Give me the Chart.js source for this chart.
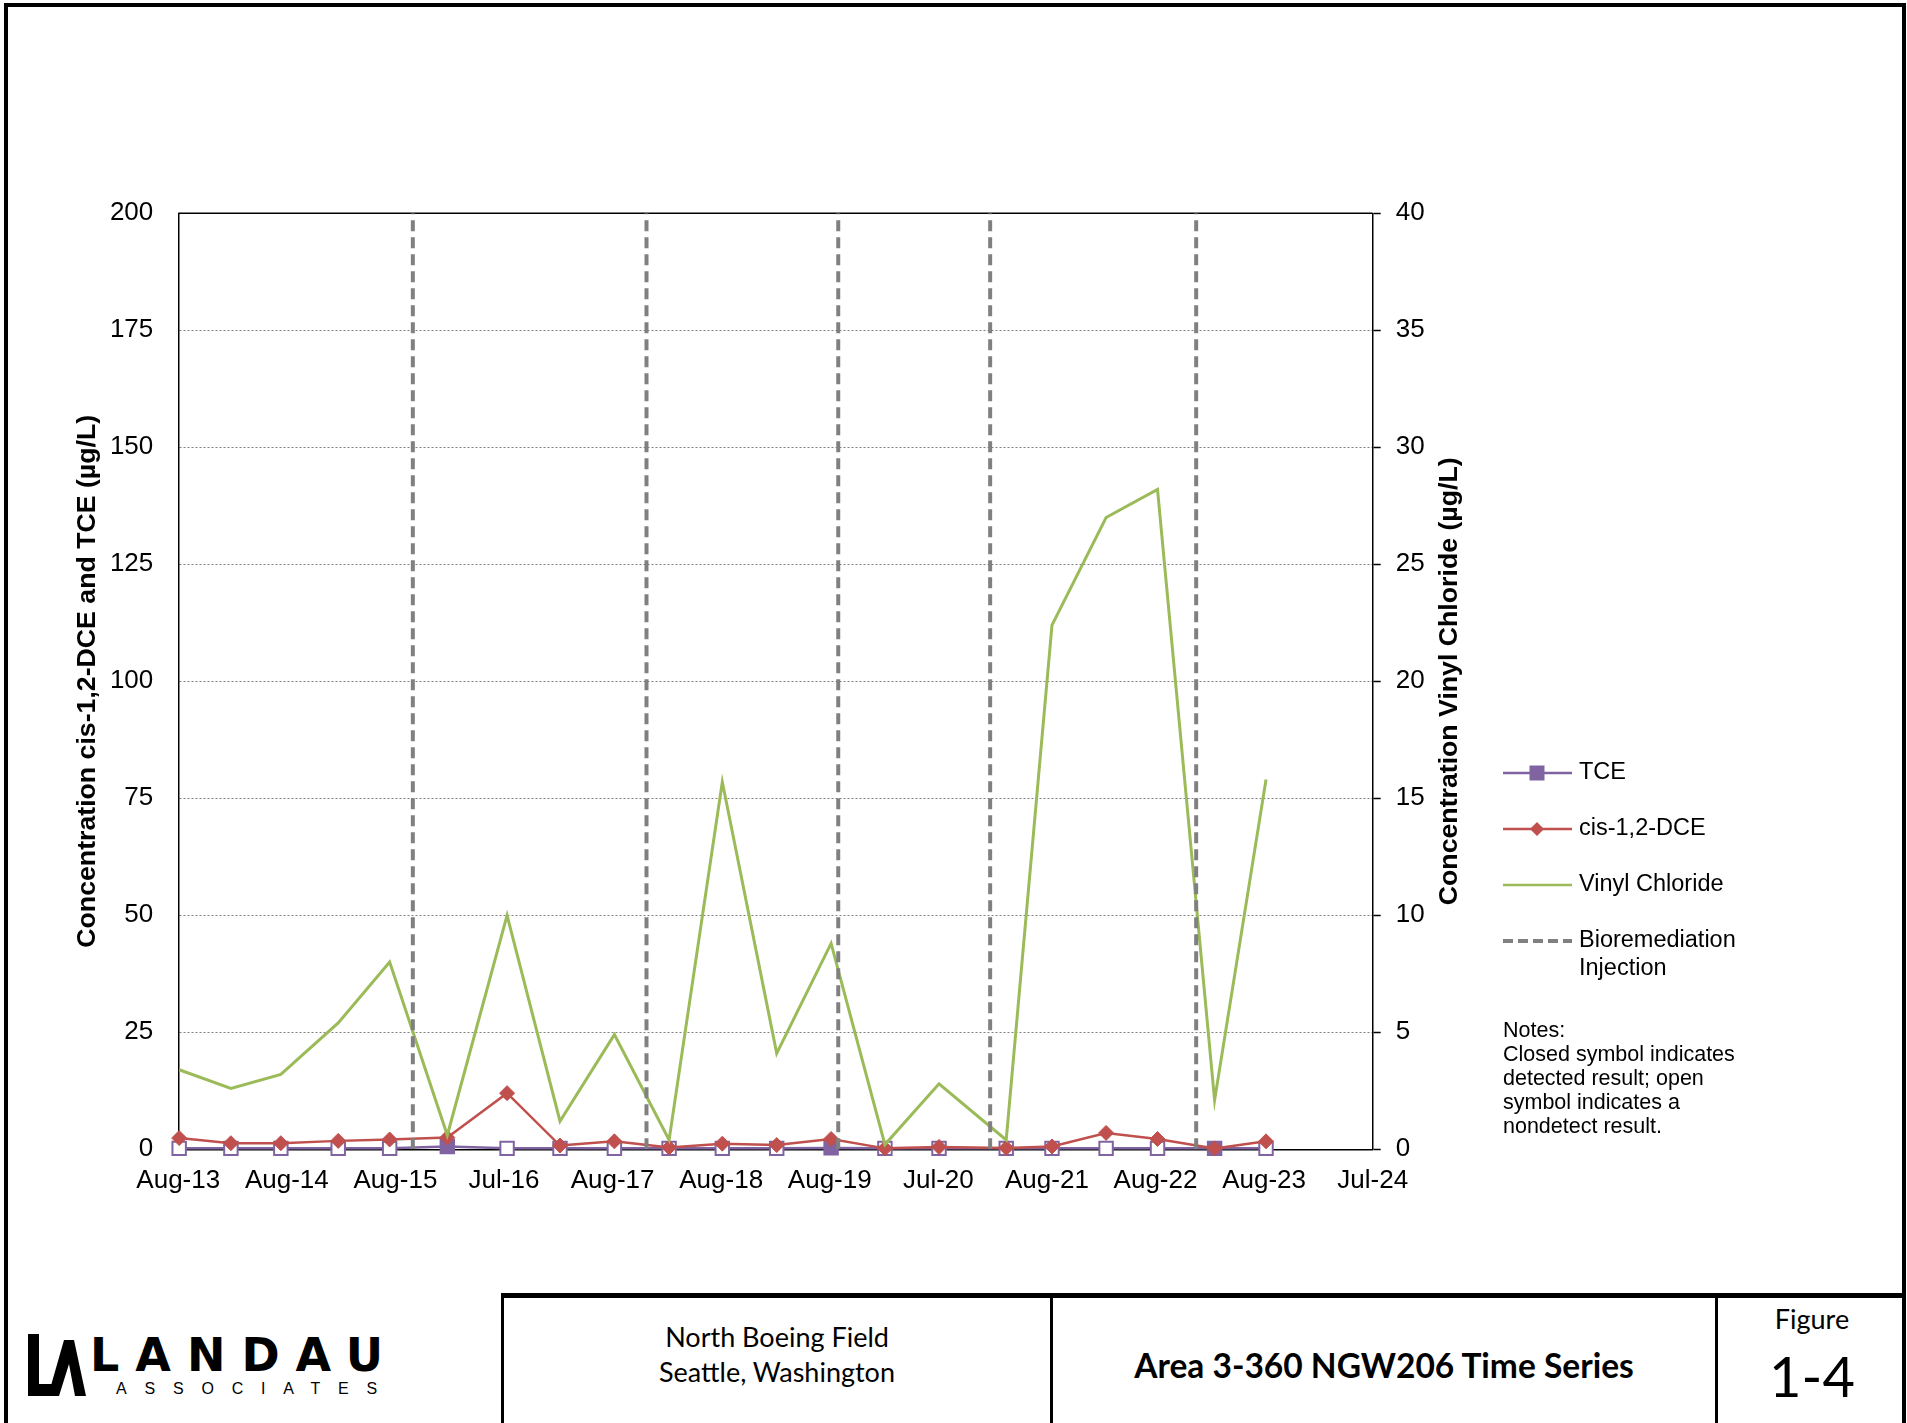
<!DOCTYPE html>
<html>
<head>
<meta charset="utf-8">
<script src="https://cdn.jsdelivr.net/npm/chart.js@4.4.1/dist/chart.umd.min.js"></script>
<style>
  html, body { margin: 0; padding: 0; background: #fff; }
  #page { position: relative; width: 1907px; height: 1423px; overflow: hidden; font-family: "Liberation Sans", Arial, sans-serif; }
  #frame { position: absolute; left: 4px; top: 3px; width: 1902px; height: 1500px; border: 4px solid #000; box-sizing: border-box; }
  #chart { position: absolute; left: 0; top: 0; }
  #notes { position: absolute; left: 1503px; top: 1018px; font-size: 21.5px; line-height: 24px; color: #000; }
  #block { position: absolute; left: 501px; top: 1293px; width: 1405px; height: 140px; border-top: 5px solid #000; box-sizing: border-box; font-family: Lato, "Open Sans", sans-serif; }
  .cell { position: absolute; top: 0; bottom: 0; border-left: 3px solid #000; box-sizing: border-box; text-align: center; color: #000; }
  #c1 { left: 0; width: 549px; }
  #c2 { left: 549px; width: 665px; }
  #c3 { left: 1214px; width: 191px; }
  #c1 .t { position: absolute; left: 0; right: 0; font-size: 27px; }
  #c2 .t { position: absolute; left: 0; right: 0; top: 47px; font-size: 33.5px; font-weight: bold; }
  #c3 .fig { position: absolute; left: 0; right: 0; top: 4px; font-size: 27px; }
  #c3 .num { position: absolute; left: 0; right: 0; top: 44px; font-size: 56px; }
  #logo { position: absolute; left: 28px; top: 1332px; width: 370px; height: 70px; }
  #logo .name { position: absolute; left: 62px; top: -4px; font-size: 46px; font-weight: bold; letter-spacing: 16px; font-family: "DejaVu Sans", sans-serif; }
  #logo .sub { position: absolute; left: 88px; top: 48px; font-size: 16px; letter-spacing: 17.8px; }
</style>
</head>
<body>
<div id="page">
  <div id="frame"></div>
  <canvas id="chart" width="1907" height="1290"></canvas>
  <div id="notes">Notes:<br>Closed symbol indicates<br>detected result; open<br>symbol indicates a<br>nondetect result.</div>
  <div id="logo">
    <svg width="58" height="66" viewBox="0 0 58 66" style="position:absolute;left:0;top:0">
      <polygon points="0,2 11,2 11,52 26,52 22,64 0,64" fill="#000"/>
      <polygon points="20,64 36,8 46,8 58,64 47,64 41,32 31,64" fill="#000"/>
    </svg>
    <div class="name">LANDAU</div>
    <div class="sub">ASSOCIATES</div>
  </div>
  <div id="block">
    <div class="cell" id="c1">
      <div class="t" style="top:22px">North Boeing Field</div>
      <div class="t" style="top:57px">Seattle, Washington</div>
    </div>
    <div class="cell" id="c2"><div class="t">Area 3-360 NGW206 Time Series</div></div>
    <div class="cell" id="c3"><div class="fig">Figure</div><div class="num">1-4</div></div>
  </div>
</div>
<script>
// Eksen ve veri dizileri
const axisStart = '2013-08-01';
const tickStepDays = 365.25;
const tickLabels = ['Aug-13', 'Aug-14', 'Aug-15', 'Jul-16', 'Aug-17', 'Aug-18', 'Aug-19', 'Jul-20', 'Aug-21', 'Aug-22', 'Aug-23', 'Jul-24'];

const sampleDates = ['2013-08-04', '2014-01-25', '2014-07-12', '2015-01-21', '2015-07-13', '2016-01-23', '2016-08-11',
  '2017-02-05', '2017-08-07', '2018-02-07', '2018-08-05', '2019-02-04', '2019-08-06', '2020-02-03', '2020-08-03',
  '2021-03-17', '2021-08-18', '2022-02-16', '2022-08-08', '2023-02-16', '2023-08-08'];
const tce = [0.2, 0.2, 0.2, 0.2, 0.2, 0.6, 0.2, 0.2, 0.2, 0.2, 0.2, 0.2, 0.3, 0.2, 0.2, 0.2, 0.2, 0.2, 0.2, 0.2, 0.2];
const tceDetected = [false, false, false, false, false, true, false, false, false, false, false, false, true,
  false, false, false, false, false, false, true, false];
const dce = [2.4, 1.3, 1.3, 1.8, 2.1, 2.5, 12.0, 0.8, 1.7, 0.4, 1.2, 0.9, 2.2, 0.2, 0.5, 0.3, 0.6, 3.5, 2.2, 0.2, 1.7];
const vinylChloride = [3.4, 2.6, 3.2, 5.4, 8.0, 0.6, 10.0, 1.2, 4.9, 0.4, 15.7, 4.1, 8.8, 0.2, 2.8, 0.4, 22.4, 27.0, 28.2, 2.1, 15.8];
const injectionDates = ['2015-09-29', '2017-11-23', '2019-08-30', '2021-01-22', '2022-12-16'];

const leftAxis = { min: 0, max: 200, step: 25 };
const rightAxis = { min: 0, max: 40, step: 5 };
const seriesNames = ['TCE', 'cis-1,2-DCE', 'Vinyl Chloride', 'Bioremediation\nInjection'];
const axisTitles = ['Concentration cis-1,2-DCE and TCE (µg/L)', 'Concentration Vinyl Chloride (µg/L)'];

// Renkler
const purple = '#8064A2';
const red = '#C0504D';
const green = '#9BBB59';
const gray = '#808080';

const dayOf = s => (Date.parse(s) - Date.parse(axisStart)) / 86400000;
const pts = values => sampleDates.map((d, i) => ({ x: dayOf(d), y: values[i] }));

Chart.defaults.font.family = '"Liberation Sans", Arial, sans-serif';
Chart.defaults.color = '#000';

// Lejant, üst çizgi ve eksen başlıkları
const extras = {
    id: 'extras',
    beforeDatasetsDraw(chart) {
        const { ctx, chartArea } = chart;
        ctx.save();
        ctx.strokeStyle = '#000';
        ctx.lineWidth = 1.5;
        ctx.beginPath();
        ctx.moveTo(chartArea.left, chartArea.top);
        ctx.lineTo(chartArea.right, chartArea.top);
        ctx.stroke();
        ctx.restore();
    },
    afterDraw(chart) {
        const { ctx, chartArea } = chart;
        const midY = (chartArea.top + chartArea.bottom) / 2;
        // eksen başlıkları (ikisi de aşağıdan yukarı okunuyor)
        [[88, axisTitles[0]], [1450, axisTitles[1]]].forEach(([x, text]) => {
            ctx.save();
            ctx.translate(x, midY);
            ctx.rotate(-Math.PI / 2);
            ctx.font = 'bold 26.7px "Liberation Sans", Arial, sans-serif';
            ctx.fillStyle = '#000';
            ctx.textAlign = 'center';
            ctx.textBaseline = 'middle';
            ctx.fillText(text, 0, 0);
            ctx.restore();
        });

        // lejant
        const x0 = 1503, x1 = 1572, xm = 1537, tx = 1579;
        const rows = [773, 829, 885, 941];
        const styles = [
            { color: purple, dash: [], marker: 'rect' },
            { color: red, dash: [], marker: 'diamond' },
            { color: green, dash: [], marker: null },
            { color: gray, dash: [10, 5], marker: null }
        ];
        ctx.save();
        styles.forEach((s, i) => {
            const y = rows[i];
            ctx.strokeStyle = s.color;
            ctx.lineWidth = i === 3 ? 4 : 2.5;
            ctx.setLineDash(s.dash);
            ctx.beginPath();
            ctx.moveTo(x0, y);
            ctx.lineTo(x1, y);
            ctx.stroke();
            ctx.setLineDash([]);
            ctx.fillStyle = s.color;
            if (s.marker === 'rect') {
                ctx.fillRect(xm - 7.5, y - 7.5, 15, 15);
            } else if (s.marker === 'diamond') {
                ctx.beginPath();
                ctx.moveTo(xm - 7, y);
                ctx.lineTo(xm, y - 7);
                ctx.lineTo(xm + 7, y);
                ctx.lineTo(xm, y + 7);
                ctx.closePath();
                ctx.fill();
            }
            ctx.fillStyle = '#000';
            ctx.font = '23.5px "Liberation Sans", Arial, sans-serif';
            ctx.textBaseline = 'middle';
            seriesNames[i].split('\n').forEach((line, k) => ctx.fillText(line, tx, y + k * 28));
        });
        ctx.restore();
    }
};

const injectionPoints = injectionDates.flatMap(d => [
    { x: dayOf(d), y: leftAxis.min }, { x: dayOf(d), y: leftAxis.max }, { x: dayOf(d), y: null }
]);

new Chart(document.getElementById('chart').getContext('2d'), {
    type: 'line',
    data: {
        datasets: [
            {
                label: seriesNames[3],
                data: injectionPoints,
                yAxisID: 'y',
                borderColor: gray,
                borderWidth: 4,
                borderDash: [11, 6],
                pointRadius: 0,
                spanGaps: false,
                order: 0
            },
            {
                label: seriesNames[2],
                data: pts(vinylChloride),
                yAxisID: 'y1',
                borderColor: green,
                borderWidth: 3,
                pointRadius: 0,
                tension: 0,
                order: 1
            },
            {
                label: seriesNames[1],
                data: pts(dce),
                yAxisID: 'y',
                borderColor: red,
                backgroundColor: red,
                borderWidth: 2.5,
                pointStyle: 'rectRot',
                pointRadius: 7.5,
                pointBorderWidth: 1,
                pointBackgroundColor: red,
                pointBorderColor: red,
                clip: false,
                order: 2
            },
            {
                label: seriesNames[0],
                data: pts(tce),
                yAxisID: 'y',
                borderColor: purple,
                backgroundColor: purple,
                borderWidth: 2.5,
                pointStyle: 'rect',
                pointRadius: 9.5,
                pointBorderWidth: 2,
                pointBackgroundColor: tceDetected.map(f => f ? purple : '#fff'),
                pointBorderColor: purple,
                clip: false,
                order: 3
            }
        ]
    },
    options: {
        responsive: false,
        animation: false,
        devicePixelRatio: 1,
        layout: { padding: { left: 84.9, right: 467.4, top: 213.3, bottom: 77.5 } },
        plugins: { legend: { display: false }, tooltip: { enabled: false } },
        scales: {
            x: {
                type: 'linear',
                min: 0,
                max: (tickLabels.length - 1) * tickStepDays,
                afterBuildTicks: axis => {
                    axis.ticks = tickLabels.map((_, i) => ({ value: i * tickStepDays }));
                },
                ticks: {
                    callback: (v, i) => tickLabels[i],
                    autoSkip: false,
                    maxRotation: 0,
                    font: { size: 26 },
                    padding: 16
                },
                grid: { display: false, drawTicks: false },
                border: { color: '#000', width: 1.5 }
            },
            y: {
                position: 'left',
                min: leftAxis.min,
                max: leftAxis.max,
                ticks: { stepSize: leftAxis.step, font: { size: 26 }, padding: 25 },
                grid: { color: '#808080', lineWidth: 1, drawTicks: false },
                border: { color: '#000', width: 1.5, dash: [2, 2] }
            },
            y1: {
                position: 'right',
                min: rightAxis.min,
                max: rightAxis.max,
                ticks: { stepSize: rightAxis.step, font: { size: 26 }, padding: 15 },
                grid: { drawOnChartArea: false, drawTicks: true, tickLength: 8, tickColor: '#000', tickWidth: 1.5 },
                border: { color: '#000', width: 1.5 }
            }
        }
    },
    plugins: [extras]
});
</script>
</body>
</html>
